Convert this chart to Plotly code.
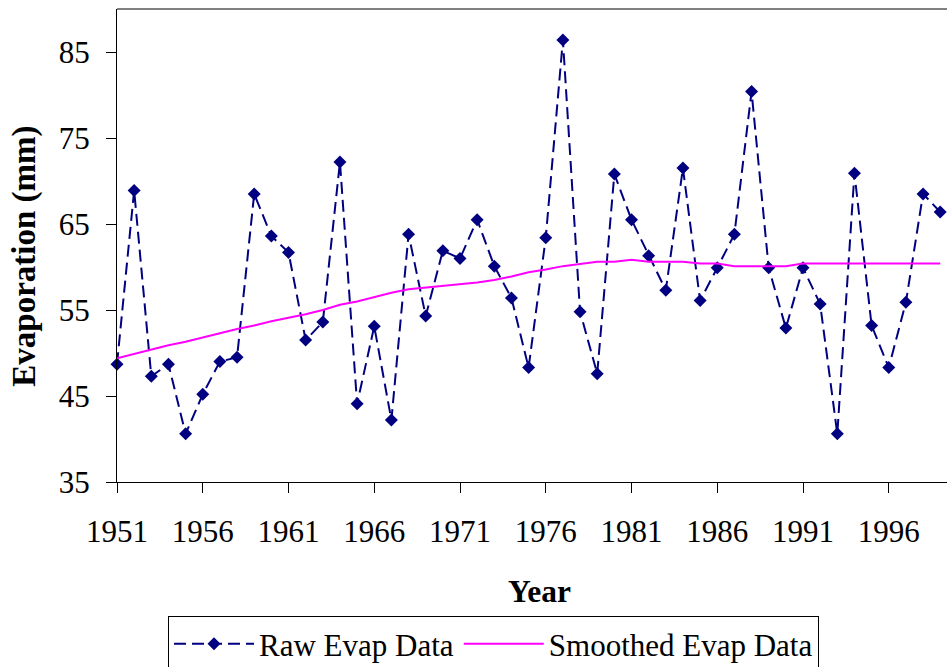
import plotly.graph_objects as go

years = list(range(1951, 2000))
raw_evap = [48.7, 68.9, 47.3, 48.7, 40.6, 45.2, 49.0, 49.5, 68.5, 63.6,
            61.7, 51.5, 53.6, 72.2, 44.1, 53.1, 42.2, 63.8, 54.3, 61.9,
            61.0, 65.5, 60.1, 56.4, 48.3, 63.4, 86.4, 54.8, 47.6, 70.8,
            65.5, 61.3, 57.3, 71.5, 56.1, 59.9, 63.8, 80.4, 59.9, 52.9,
            59.9, 55.7, 40.6, 70.9, 53.2, 48.3, 55.9, 68.5, 66.4]
smoothed_evap = [49.4, 49.9, 50.4, 50.9, 51.3, 51.8, 52.3, 52.8, 53.2, 53.7,
                 54.1, 54.5, 55.0, 55.6, 56.0, 56.5, 57.0, 57.4, 57.6, 57.8,
                 58.0, 58.2, 58.5, 58.9, 59.4, 59.7, 60.1, 60.35, 60.6, 60.6,
                 60.85, 60.6, 60.6, 60.6, 60.4, 60.4, 60.1, 60.1, 60.1, 60.1,
                 60.4, 60.4, 60.4, 60.4, 60.4, 60.4, 60.4, 60.4, 60.4]
x_ticks = [1951, 1956, 1961, 1966, 1971, 1976, 1981, 1986, 1991, 1996]
y_ticks = [35, 45, 55, 65, 75, 85]

FONT = "Liberation Serif"

fig = go.Figure()
fig.add_trace(go.Scatter(
    x=years, y=raw_evap, name="Raw Evap Data", mode="lines+markers",
    line=dict(color="#000080", width=2, dash="12px,6px"),
    marker=dict(symbol="diamond", size=10, color="#000080"),
    cliponaxis=False,
))
fig.add_trace(go.Scatter(
    x=years, y=smoothed_evap, name="Smoothed Evap Data", mode="lines",
    line=dict(color="#FF00FF", width=2),
))

W, H = 947, 667
ml, mr, mt, mb = 117, 0, 9, 185

fig.update_layout(
    template="none",
    width=W, height=H,
    margin=dict(l=ml, r=mr, t=mt, b=mb, pad=0, autoexpand=False),
    paper_bgcolor="white", plot_bgcolor="white",
    font=dict(family=FONT, size=31, color="black"),
    showlegend=True,
    legend=dict(
        orientation="h", xref="container", yref="container",
        x=168 / W, xanchor="left",
        y=1 - 616 / H, yanchor="top",
        bordercolor="black", borderwidth=1, bgcolor="white",
        font=dict(family=FONT, size=31, color="black"),
        itemwidth=80, tracegroupgap=0,
    ),
    xaxis=dict(
        automargin=False,
        range=[1951, 1951 + (W - ml - mr) / 17.15],
        tickvals=x_ticks, ticktext=[str(v) for v in x_ticks],
        showgrid=False, zeroline=False,
        showline=True, linecolor="black", linewidth=1,
        ticks="outside", ticklen=10, tickwidth=1, tickcolor="black",
        tickfont=dict(family=FONT, size=31, color="black"),
        ticklabelstandoff=12,
    ),
    yaxis=dict(
        automargin=False,
        range=[35, 90],
        tickvals=y_ticks,
        showgrid=False, zeroline=False,
        showline=True, linecolor="black", linewidth=1,
        ticks="outside", ticklen=10, tickwidth=1, tickcolor="black",
        tickfont=dict(family=FONT, size=31, color="black"),
        ticklabelstandoff=10,
    ),
    shapes=[dict(type="line", xref="paper", yref="paper", x0=0, x1=1, y0=1, y1=1,
                 line=dict(color="#808080", width=2))],
    annotations=[
        dict(text="<b>Year</b>", xref="paper", yref="paper",
             x=(539 - ml) / (W - ml - mr), y=(482.3 - 592) / (H - mt - mb),
             xanchor="center", yanchor="middle", showarrow=False,
             font=dict(family=FONT, size=31.5, color="black")),
        dict(text="<b>Evaporation (mm)</b>", xref="paper", yref="paper",
             x=(25 - ml) / (W - ml - mr), y=(482.3 - 257) / (H - mt - mb),
             xanchor="center", yanchor="middle", textangle=-90, showarrow=False,
             font=dict(family=FONT, size=33, color="black")),
    ],
)

fig.write_html("out.html", config={"displayModeBar": False},
               post_script="document.body.style.margin='0';")
